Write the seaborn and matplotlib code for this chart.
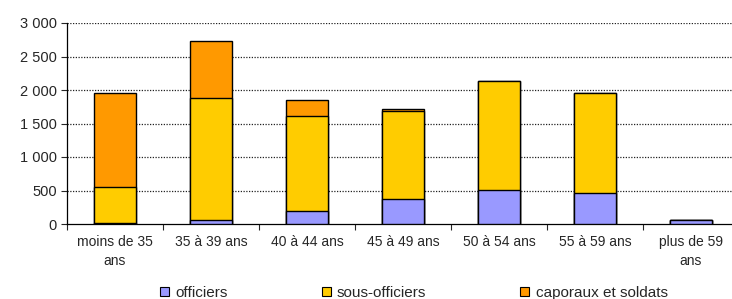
import numpy as np
import pandas as pd
import matplotlib
matplotlib.use("Agg")
import matplotlib.pyplot as plt
import seaborn as sns
from matplotlib.patches import Patch
from matplotlib.ticker import FuncFormatter, FixedLocator

# --- Data ---
categories = ["moins de 35\nans", "35 à 39 ans", "40 à 44 ans", "45 à 49 ans",
              "50 à 54 ans", "55 à 59 ans", "plus de 59\nans"]
officiers = [20, 60, 195, 370, 510, 470, 60]
sous_officiers = [525, 1825, 1415, 1320, 1620, 1480, 0]
caporaux = [1410, 850, 235, 25, 0, 0, 0]

series_names = ["officiers", "sous-officiers", "caporaux et soldats"]
colors = ["#9999FF", "#FFCC00", "#FF9900"]

sns.set_style("white")
plt.rcParams["font.family"] = ["Liberation Sans", "DejaVu Sans"]

fig = plt.figure(figsize=(7.32, 2.99), dpi=100)
ax = fig.add_axes([67 / 732, 1 - 224 / 299, 672 / 732, 201 / 299])

# cumulative heights, drawn tallest first so the stack reads correctly
cum1 = np.array(officiers)
cum2 = cum1 + np.array(sous_officiers)
cum3 = cum2 + np.array(caporaux)
for heights, col in [(cum3, colors[2]), (cum2, colors[1]), (cum1, colors[0])]:
    df = pd.DataFrame({"cat": categories, "val": heights})
    sns.barplot(data=df, x="cat", y="val", color=col, saturation=1,
                width=0.43, edgecolor="black", linewidth=1.0, ax=ax, zorder=3)

ax.set_xlim(-0.5, 6.5)
ax.set_ylim(0, 3000)
ax.set_xlabel("")
ax.set_ylabel("")

ax.yaxis.set_major_locator(FixedLocator(np.arange(0, 3001, 500)))
ax.yaxis.set_major_formatter(FuncFormatter(lambda v, p: f"{int(v):,}".replace(",", " ")))
for y in range(500, 3001, 500):
    ax.axhline(y, color="#222222", linestyle=(0, (1, 1.2)), linewidth=0.9, zorder=1)

ax.set_xticks(range(len(categories)))
ax.set_xticklabels(categories, fontsize=10, linespacing=1.45)
ax.set_xticks(np.arange(-0.5, 7, 1), minor=True)
ax.tick_params(axis="x", which="major", length=0, pad=8)
ax.tick_params(axis="x", which="minor", length=4, width=0.8, direction="out", bottom=True)
ax.tick_params(axis="y", length=4, width=0.8, direction="out", left=True, labelsize=10.5)

for s in ["top", "right"]:
    ax.spines[s].set_visible(False)
for s in ["left", "bottom"]:
    ax.spines[s].set_color("black")
    ax.spines[s].set_linewidth(0.9)

handles = [Patch(facecolor=c, edgecolor="black", linewidth=0.8) for c in colors]
fig.legend(handles, series_names, loc="center left", bbox_to_anchor=(160 / 732, 1 - 293 / 299),
           ncol=3, frameon=False, fontsize=11, handlelength=0.6, handleheight=0.6,
           handletextpad=0.4, columnspacing=6.15, borderpad=0, borderaxespad=0)

fig.savefig("out.png", dpi=100)
